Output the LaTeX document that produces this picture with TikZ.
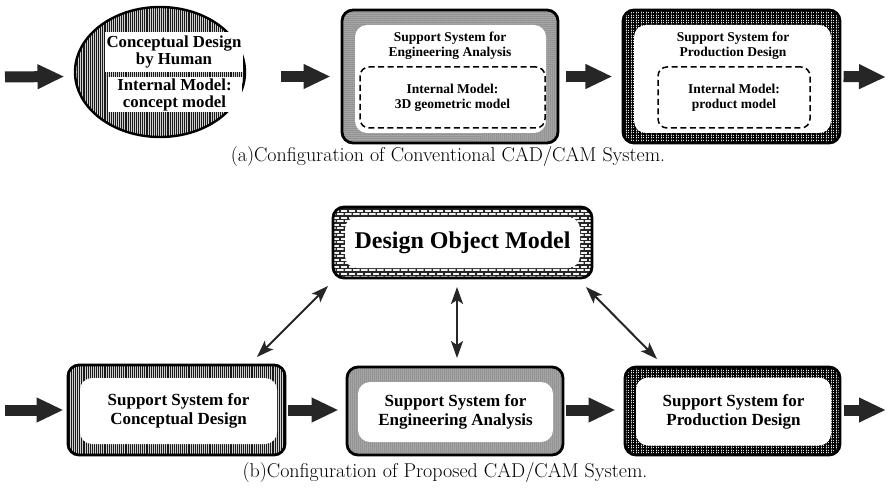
\documentclass[tikz,border=0pt]{standalone}
\usepackage{fontspec}
\newfontfamily\tms{Liberation Serif}
\usetikzlibrary{shapes.geometric,patterns,patterns.meta,arrows.meta}
\pgfdeclarepatternformonly{smallbricks}{\pgfpoint{-0.5pt}{-0.5pt}}{\pgfpoint{8.5pt}{7.5pt}}{\pgfpoint{8pt}{7pt}}{%
  \pgfsetlinewidth{1.1pt}%
  \pgfpathmoveto{\pgfpoint{0pt}{0pt}}\pgfpathlineto{\pgfpoint{8pt}{0pt}}%
  \pgfpathmoveto{\pgfpoint{0pt}{3.5pt}}\pgfpathlineto{\pgfpoint{8pt}{3.5pt}}%
  \pgfpathmoveto{\pgfpoint{0pt}{0pt}}\pgfpathlineto{\pgfpoint{0pt}{3.5pt}}%
  \pgfpathmoveto{\pgfpoint{4pt}{3.5pt}}\pgfpathlineto{\pgfpoint{4pt}{7pt}}%
  \pgfusepath{stroke}}
\begin{document}
\begin{tikzpicture}[x=1pt,y=-1pt,
  frame/.style={rectangle,draw=black,line width=2.8pt,rounded corners=11pt,inner sep=0pt},
  whitebox/.style={rectangle,fill=white,rounded corners=12pt,inner sep=0pt},
  vlines/.style={preaction={fill=gray!35},pattern={Lines[angle=90,distance=2.1pt,line width=1.1pt]},pattern color=black!90},
  greydots/.style={preaction={fill=gray!62},pattern={Dots[distance=2pt,radius=0.5pt]},pattern color=black!85},
  hatchgrid/.style={preaction={fill=gray!20},pattern={Hatch[distance=2.5pt,line width=1.05pt]},pattern color=black},
  brick/.style={preaction={fill=gray!10},pattern=smallbricks,pattern color=black!85},
  dashbox/.style={rectangle,draw=black,line width=1.5pt,dash pattern=on 6pt off 3.5pt,rounded corners=9pt,inner sep=0pt,align=center,font=\boxfont},
  fat/.style={line width=11pt,draw=black!85,-{Triangle[length=27pt,width=23pt]}},
  dbl/.style={line width=2pt,draw=black!85,{Stealth[length=17pt,width=12pt,inset=4pt]}-{Stealth[length=17pt,width=12pt,inset=4pt]}},
  lbl/.style={align=center,font=\boxfont,inner sep=0pt},
  lblb/.style={align=center,font=\tms\bfseries\fontsize{17}{19}\selectfont},
  captxt/.style={font=\fontsize{20}{22}\selectfont,inner sep=0pt}]
\def\boxfont{\tms\bfseries\fontsize{13.5}{15}\selectfont}
\def\ellfont{\tms\bfseries\fontsize{16.8}{17.5}\selectfont}
\useasboundingbox[fill=white] (0,0) rectangle (888,489);

% ---------- (a) ----------
\node[ellipse,draw=black,line width=2.4pt,minimum width=170,minimum height=130,inner sep=0pt,vlines] (e1) at (160,72) {};
\node[rectangle,fill=white,inner sep=0pt,minimum width=138,minimum height=40,align=center,font=\ellfont] (e1a) at (174,52) {Conceptual Design\\by Human};
\node[rectangle,fill=white,inner sep=0pt,minimum width=134,minimum height=35,align=center,font=\ellfont] (e1b) at (174.5,95) {Internal Model:\\concept model};

\node[frame,greydots,minimum width=216,minimum height=133] (b2) at (450,76.5) {};
\node[whitebox,minimum width=191,minimum height=108] (b2w) at (450.5,79) {};
\node[lbl] (b2t) at (450,46) {Support System for\\Engineering Analysis};
\node[dashbox,minimum width=185,minimum height=61] (b2d) at (452.5,97.5) {Internal Model:\\3D geometric model};

\node[frame,hatchgrid,minimum width=217,minimum height=133] (b3) at (731.5,76.5) {};
\node[whitebox,minimum width=197,minimum height=108] (b3w) at (732.5,79) {};
\node[lbl] (b3t) at (733,46) {Support System for\\Production Design};
\node[dashbox,minimum width=152,minimum height=61] (b3d) at (734,97.5) {Internal Model:\\product model};

\coordinate (ain) at (5,77);
\coordinate (aout) at (886,77);
\draw[fat] (ain) -- ([xshift=-10pt]e1.west |- b2.west);
\draw[fat] ([xshift=35pt]e1.east |- b2.west) -- ([xshift=-10pt]b2.west);
\draw[fat] ([xshift=7pt]b2.east) -- ([xshift=-10pt]b3.west);
\draw[fat] ([xshift=3pt]b3.east) -- (aout);

\node[captxt] (capa) at (448,157) {(a)Configuration of Conventional CAD/CAM System.};

% ---------- (b) ----------
\node[frame,brick,minimum width=259,minimum height=71] (dom) at (462.5,242.5) {};
\node[whitebox,minimum width=235,minimum height=51,font=\tms\bfseries\fontsize{24}{26}\selectfont] (domw) at (462.5,242.5) {Design Object Model};

\node[frame,vlines,minimum width=217,minimum height=90] (c1) at (176.5,410) {};
\node[whitebox,minimum width=197,minimum height=66,lblb] (c1w) at (178.5,411) {Support System for\\Conceptual Design};

\node[frame,greydots,minimum width=216,minimum height=88] (c2) at (455,411) {};
\node[whitebox,minimum width=195,minimum height=60,lblb] (c2w) at (455.5,412) {Support System for\\Engineering Analysis};

\node[frame,hatchgrid,minimum width=215,minimum height=88] (c3) at (732.5,411) {};
\node[whitebox,minimum width=195,minimum height=68,lblb] (c3w) at (733.5,411.5) {Support System for\\Production Design};

\coordinate (bin) at (5,410);
\coordinate (bout) at (886,410);
\draw[fat] (bin) -- ([xshift=-3pt]c1.west |- bin);
\draw[fat] ([xshift=2pt]c1.east |- bin) -- ([xshift=-7pt]c2.west |- bin);
\draw[fat] ([xshift=2pt]c2.east |- bin) -- ([xshift=-8pt]c3.west |- bin);
\draw[fat] ([xshift=3pt]c3.east |- bin) -- (bout);

\coordinate (l1) at (257,357);
\coordinate (l2) at (328,286);
\coordinate (m1) at (457,358);
\coordinate (m2) at (457,287);
\coordinate (r1) at (657,359);
\coordinate (r2) at (586,287);
\draw[dbl] (l1) -- (l2);
\draw[dbl] (m1) -- (m2);
\draw[dbl] (r1) -- (r2);

\node[captxt] (capb) at (445,473) {(b)Configuration of Proposed CAD/CAM System.};
\end{tikzpicture}
\end{document}
